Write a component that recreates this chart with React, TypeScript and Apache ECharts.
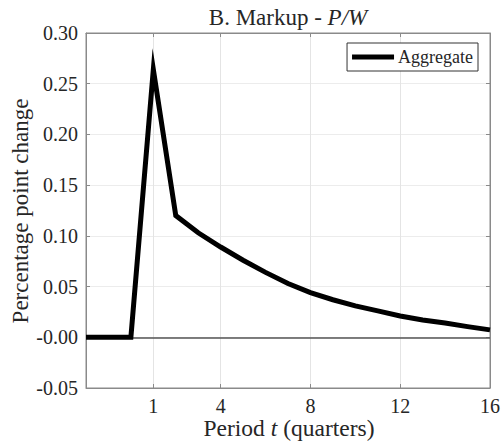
import React, { useEffect, useRef } from "react";
import * as echarts from "echarts";

const periods = [-2, -1, 0, 1, 2, 3, 4, 5, 6, 7, 8, 9, 10, 11, 12, 13, 14, 15, 16];
const aggregate = [0, 0, 0, 0.264, 0.12, 0.103, 0.089, 0.076, 0.064, 0.053, 0.044, 0.037, 0.031, 0.026, 0.021, 0.017, 0.014, 0.0105, 0.0073];
const xTicks = [1, 4, 8, 12, 16];
const yTickLabels = ["-0.05", "-0.00", "0.05", "0.10", "0.15", "0.20", "0.25", "0.30"];
const yMin = -0.05;
const yMax = 0.3;
const yStep = 0.05;
const xMin = -2;
const xMax = 16;
const seriesName = "Aggregate";
const titleMain = "B. Markup - ";
const titleItalic = "P/W";
const yAxisTitle = "Percentage point change";
const xAxisTitleA = "Period ";
const xAxisTitleB = "t";
const xAxisTitleC = " (quarters)";

const FONT = "Liberation Serif, DejaVu Serif, serif";
const AXIS_COLOR = "#8a8a8a";
const TEXT_COLOR = "#262626";

export default function App() {
  const ref = useRef<HTMLDivElement>(null);
  useEffect(() => {
    if (!ref.current) return;
    const chart = echarts.init(ref.current, null, { renderer: "svg" });
    const yLabel = (v: number) => {
      const i = Math.round((v - yMin) / yStep);
      return yTickLabels[i] ?? "";
    };
    chart.setOption({
      animation: false,
      backgroundColor: "#fff",
      textStyle: { fontFamily: FONT },
      grid: {
        left: 86,
        right: 13,
        top: 33,
        bottom: 55,
        show: true,
        borderColor: AXIS_COLOR,
        borderWidth: 1,
        backgroundColor: "transparent",
      },
      legend: {
        data: [{ name: seriesName, icon: "rect" }],
        right: 25,
        top: 43,
        itemWidth: 42,
        itemHeight: 5,
        itemGap: 4,
        padding: [5, 5, 5, 5],
        borderColor: "#333",
        borderWidth: 1,
        backgroundColor: "#fff",
        textStyle: { fontFamily: FONT, fontSize: 18, color: TEXT_COLOR, padding: [0, 0, 0, -1] },
        selectedMode: false,
      },
      xAxis: [
        {
          type: "value",
          min: xMin,
          max: xMax,
          position: "bottom",
          axisLine: { show: true, onZero: false, lineStyle: { color: AXIS_COLOR, width: 1 } },
          axisTick: { show: true, inside: true, length: 4, customValues: xTicks, lineStyle: { color: AXIS_COLOR } },
          axisLabel: {
            customValues: xTicks,
            margin: 10,
            lineHeight: 16,
            color: TEXT_COLOR,
            fontFamily: FONT,
            fontSize: 20,
            formatter: (v: number) => String(v),
          },
          splitLine: { show: true, lineStyle: { color: "#e4e4e4", width: 1 } },
        },
        {
          type: "value",
          min: xMin,
          max: xMax,
          position: "top",
          axisLine: { show: true, onZero: false, lineStyle: { color: AXIS_COLOR, width: 1 } },
          axisTick: { show: true, inside: true, length: 4, customValues: xTicks, lineStyle: { color: AXIS_COLOR } },
          axisLabel: { show: false },
          splitLine: { show: false },
        },
      ],
      yAxis: [
        {
          type: "value",
          min: yMin,
          max: yMax,
          interval: yStep,
          position: "left",
          axisLine: { show: true, onZero: false, lineStyle: { color: AXIS_COLOR, width: 1 } },
          axisTick: { show: true, inside: true, length: 4, lineStyle: { color: AXIS_COLOR } },
          axisLabel: {
            margin: 8,
            color: TEXT_COLOR,
            fontFamily: FONT,
            fontSize: 20,
            formatter: yLabel,
          },
          splitLine: { show: true, lineStyle: { color: "#ececec", width: 1 } },
        },
        {
          type: "value",
          min: yMin,
          max: yMax,
          interval: yStep,
          position: "right",
          axisLine: { show: true, onZero: false, lineStyle: { color: AXIS_COLOR, width: 1 } },
          axisTick: { show: true, inside: true, length: 4, lineStyle: { color: AXIS_COLOR } },
          axisLabel: { show: false },
          splitLine: { show: false },
        },
      ],
      series: [
        {
          name: seriesName,
          type: "line",
          data: periods.map((p, i) => [p, aggregate[i]]),
          showSymbol: false,
          symbol: "none",
          lineStyle: { color: "#000", width: 5, join: "miter", miterLimit: 20 },
          itemStyle: { color: "#000" },
          z: 5,
          markLine: {
            silent: true,
            symbol: "none",
            label: { show: false },
            lineStyle: { color: "#555", width: 1.5, type: "solid" },
            data: [{ yAxis: 0 }],
            z: 3,
          },
        },
      ],
      graphic: [
        {
          type: "text",
          x: 288,
          y: 17.5,
          style: {
            text: `{a|${titleMain}}{b|${titleItalic}}`,
            align: "center",
            verticalAlign: "middle",
            fontFamily: FONT,
            rich: {
              a: { fontFamily: FONT, fontSize: 23, fill: TEXT_COLOR, color: TEXT_COLOR },
              b: { fontFamily: FONT, fontSize: 23, fontStyle: "italic", fill: TEXT_COLOR, color: TEXT_COLOR },
            },
          },
        },
        {
          type: "text",
          x: 20,
          y: 211,
          rotation: Math.PI / 2,
          style: {
            text: yAxisTitle,
            align: "center",
            verticalAlign: "middle",
            fontFamily: FONT,
            fontSize: 23,
            fill: TEXT_COLOR,
          },
        },
        {
          type: "text",
          x: 289,
          y: 428,
          style: {
            text: `{a|${xAxisTitleA}}{b|${xAxisTitleB}}{a|${xAxisTitleC}}`,
            align: "center",
            verticalAlign: "middle",
            fontFamily: FONT,
            rich: {
              a: { fontFamily: FONT, fontSize: 23.5, lineHeight: 16, fill: TEXT_COLOR, color: TEXT_COLOR },
              b: { fontFamily: FONT, fontSize: 23.5, lineHeight: 16, fontStyle: "italic", fill: TEXT_COLOR, color: TEXT_COLOR },
            },
          },
        },
      ],
    });
    return () => chart.dispose();
  }, []);
  return <div ref={ref} style={{ position: "fixed", left: 0, top: 0, width: 503, height: 443 }} />;
}
